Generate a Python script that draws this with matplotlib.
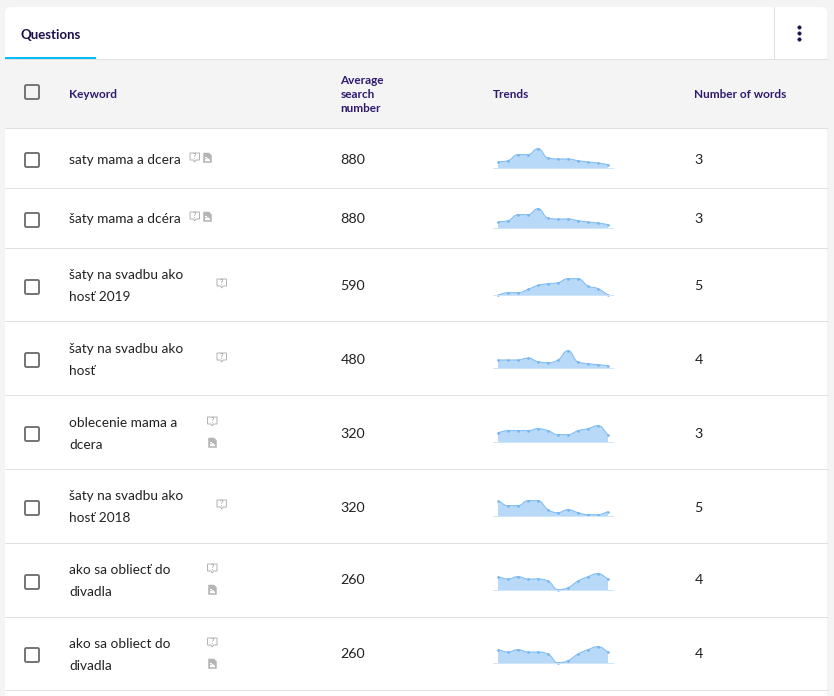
import matplotlib
matplotlib.use("Agg")
import matplotlib.pyplot as plt
import numpy as np
from matplotlib.patches import Rectangle, FancyBboxPatch, PathPatch, Polygon
from matplotlib.path import Path

plt.rcParams['font.family'] = ['Lato', 'DejaVu Sans']

keywords = [["saty mama a dcera"], ["šaty mama a dcéra"], ["šaty na svadbu ako", "hosť 2019"],
            ["šaty na svadbu ako", "hosť"], ["oblecenie mama a", "dcera"], ["šaty na svadbu ako", "hosť 2018"],
            ["ako sa obliecť do", "divadla"], ["ako sa obliect do", "divadla"]]
searches = [880, 880, 590, 480, 320, 320, 260, 260]
word_counts = [3, 3, 5, 4, 3, 5, 4, 4]
trend_1 = [19, 23, 41, 41, 59, 31, 28, 28, 23, 19, 16, 11]
trend_2 = [19, 23, 41, 41, 59, 31, 28, 28, 23, 19, 16, 11]
trend_3 = [0, 7, 7, 17, 29, 34, 37, 49, 49, 27, 19, 0]
trend_4 = [25, 25, 25, 31, 20, 17, 25, 53, 19, 14, 11, 8]
trend_5 = [29, 35, 35, 35, 41, 35, 23, 23, 35, 41, 50, 23]
trend_6 = [47, 32, 32, 47, 47, 20, 11, 20, 11, 5, 5, 14]
trend_7 = [41, 34, 41, 34, 34, 28, 2, 8, 28, 41, 50, 34]
trend_8 = [41, 34, 41, 34, 34, 28, 2, 8, 28, 41, 50, 34]
trends = [trend_1, trend_2, trend_3, trend_4, trend_5, trend_6, trend_7, trend_8]
has_doc = [True, True, False, False, True, False, True, True]
headers = ["Keyword", "Trends", "Number of words"]
avg_header = ["Average", "search", "number"]
tab_label = "Questions"

W, H = 834, 696
fig = plt.figure(figsize=(W / 100, H / 100), dpi=100, facecolor="#f4f4f4")
ax = fig.add_axes([0, 0, 1, 1])
ax.set_xlim(0, W)
ax.set_ylim(H, 0)
ax.axis("off")

LINE = "#e0e0e0"
HEAD = "#2f1a70"
BODY = "#222222"
px = 72 / 100  # points per pixel
BODY_FS = 9.85
HEAD_FS = 8.45

# card
ax.add_patch(FancyBboxPatch((5, 7), 822, 60, boxstyle="round,pad=0,rounding_size=6", fc="white", ec="none", zorder=1))
ax.add_patch(Rectangle((5, 20), 822, 676, fc="white", ec="none", zorder=1))
ax.add_patch(Rectangle((5, 59), 822, 69, fc="#f4f4f4", ec="none", zorder=2))
ax.plot([5, 827], [58.5, 58.5], color=LINE, lw=1 * px, zorder=3)
ax.plot([774.5, 774.5], [7, 59], color=LINE, lw=1 * px, zorder=3)
ax.add_patch(Rectangle((5, 57), 91, 2.2, fc="#00bfff", ec="none", zorder=4))
ax.text(21, 35, tab_label, fontsize=9.5, fontweight="bold", color="#1d0f4c", va="center", zorder=5)
for y in (27, 33, 39):
    ax.plot([799.5], [y], "o", ms=3.4 * px, mfc="#1d0f4c", mec="#1d0f4c", mew=0.4, zorder=5)

# row layout
row_bottoms = [127.5, 187.5, 247.5, 320.5, 394.5, 468.5, 542.5, 616.5, 689.5]
for y in row_bottoms:
    ax.plot([5, 827], [y, y], color=LINE, lw=1 * px, zorder=3)


def checkbox(yc):
    ax.add_patch(FancyBboxPatch((25, yc - 7), 14, 14, boxstyle="round,pad=0,rounding_size=1.5",
                                fc="none", ec="#777777", lw=2 * px, zorder=5))


checkbox(92)
ax.text(69, 94.5, headers[0], fontsize=HEAD_FS, fontweight="bold", color=HEAD, va="center", zorder=5)
for i, t in enumerate(avg_header):
    ax.text(340.5, 80.5 + 14 * i, t, fontsize=HEAD_FS, fontweight="bold", color=HEAD, va="center", zorder=5)
ax.text(492.5, 94.5, headers[1], fontsize=HEAD_FS, fontweight="bold", color=HEAD, va="center", zorder=5)
ax.text(694.5, 94.5, headers[2], fontsize=HEAD_FS, fontweight="bold", color=HEAD, va="center", zorder=5)


def bubble(x, y):
    ax.add_patch(Polygon([(x, y), (x + 9.5, y), (x + 9.5, y + 7), (x + 6, y + 7), (x + 4.7, y + 9), (x + 3.5, y + 7), (x, y + 7)],
                         closed=True, fc="white", ec="#b5b5b5", lw=1 * px, zorder=5))
    ax.text(x + 4.8, y + 3.5, "?", fontsize=5.5, color="#999999", ha="center", va="center", zorder=6)


def doc(x, y):
    ax.add_patch(Polygon([(x, y), (x + 5.5, y), (x + 8, y + 2.5), (x + 8, y + 9.5), (x, y + 9.5)],
                         closed=True, fc="#b5b5b5", ec="#b5b5b5", lw=0.5 * px, zorder=5))
    ax.add_patch(Polygon([(x + 1.5, y + 3.5), (x + 3.5, y + 3.5), (x + 3.5, y + 5), (x + 1.5, y + 5)],
                         closed=True, fc="white", ec="none", zorder=6))
    ax.add_patch(Polygon([(x + 1.5, y + 6), (x + 4.5, y + 5), (x + 6.5, y + 7), (x + 6.5, y + 8.2), (x + 1.5, y + 8.2)],
                         closed=True, fc="white", ec="none", zorder=6))


text_y = [(160,), (219,), (275, 297), (349, 371), (423, 445), (496, 518), (570, 592), (644, 666)]
box_y = [160, 220, 287, 360, 434, 508, 582, 655]
value_y = [160, 219, 285.5, 359.5, 433.5, 507.5, 580.5, 654.5]
base_y = [168.3, 228.3, 295, 368.3, 442.3, 516.3, 590.3, 663.3]
bub_xy = [(190, 153), (190, 212), (217, 279), (217, 353), (207.5, 417), (217, 500), (207.5, 564), (207.5, 638)]
doc_xy = [(203.5, 153), (203.5, 212), None, None, (208.5, 438), None, (208.5, 585), (208.5, 659)]


def smooth_path(x, y):
    """Smooth monotone Bezier through the data points, long handles for round shoulders."""
    x = np.asarray(x, float)
    y = np.asarray(y, float)
    d = np.diff(y) / np.diff(x)
    m = np.zeros_like(y)
    for i in range(1, len(y) - 1):
        p = (d[i - 1] + d[i]) / 2
        m[i] = (np.sign(d[i - 1]) + np.sign(d[i])) * min(abs(d[i - 1]), abs(d[i]), 0.5 * abs(p))
    m[0], m[-1] = d[0], d[-1]
    verts = [(x[0], y[0])]
    codes = [Path.MOVETO]
    for i in range(len(x) - 1):
        h = (x[i + 1] - x[i]) * 0.48
        verts += [(x[i] + h, y[i] + m[i] * h), (x[i + 1] - h, y[i + 1] - m[i + 1] * h), (x[i + 1], y[i + 1])]
        codes += [Path.CURVE4] * 3
    return verts, codes


for i, kw in enumerate(keywords):
    checkbox(box_y[i])
    for line, ty in zip(kw, text_y[i]):
        ax.text(69.5, ty, line, fontsize=BODY_FS, color=BODY, va="center", zorder=5)
    ax.text(340.5, value_y[i], str(searches[i]), fontsize=BODY_FS + 0.4, color=BODY, va="center", zorder=5)
    ax.text(694.5, value_y[i], str(word_counts[i]), fontsize=BODY_FS + 0.4, color=BODY, va="center", zorder=5)
    bubble(*bub_xy[i])
    if has_doc[i]:
        doc(*doc_xy[i])

    # sparkline: 12 months, 120 px wide, 20 px tall
    left, bottom = 493, base_y[i]
    sp = fig.add_axes([left / W, 1 - bottom / H, 120 / W, 20 / H], zorder=6)
    sp.set_xlim(-0.5, 11.5)
    sp.set_ylim(0, 60)
    sp.axis("off")
    sp.patch.set_alpha(0)
    months = np.arange(12)
    verts, codes = smooth_path(months, trends[i])
    fill_v = verts + [(11, 0), (0, 0), (0, 0)]
    fill_c = codes + [Path.LINETO, Path.LINETO, Path.CLOSEPOLY]
    sp.add_patch(PathPatch(Path(fill_v, fill_c), fc="#b8d9f8", ec="none", clip_on=False))
    sp.add_patch(PathPatch(Path(verts, codes), fc="none", ec="#7fbcf2", lw=1 * px, clip_on=False))
    sp.plot(months, trends[i], "o", ms=2.6 * px, color="#72b4f0", mew=0, clip_on=False)
    sp.plot([-0.5, 11.5], [0, 0], color="#cfe5fa", lw=1 * px, clip_on=False)

fig.savefig("out.png", dpi=100, facecolor=fig.get_facecolor())
